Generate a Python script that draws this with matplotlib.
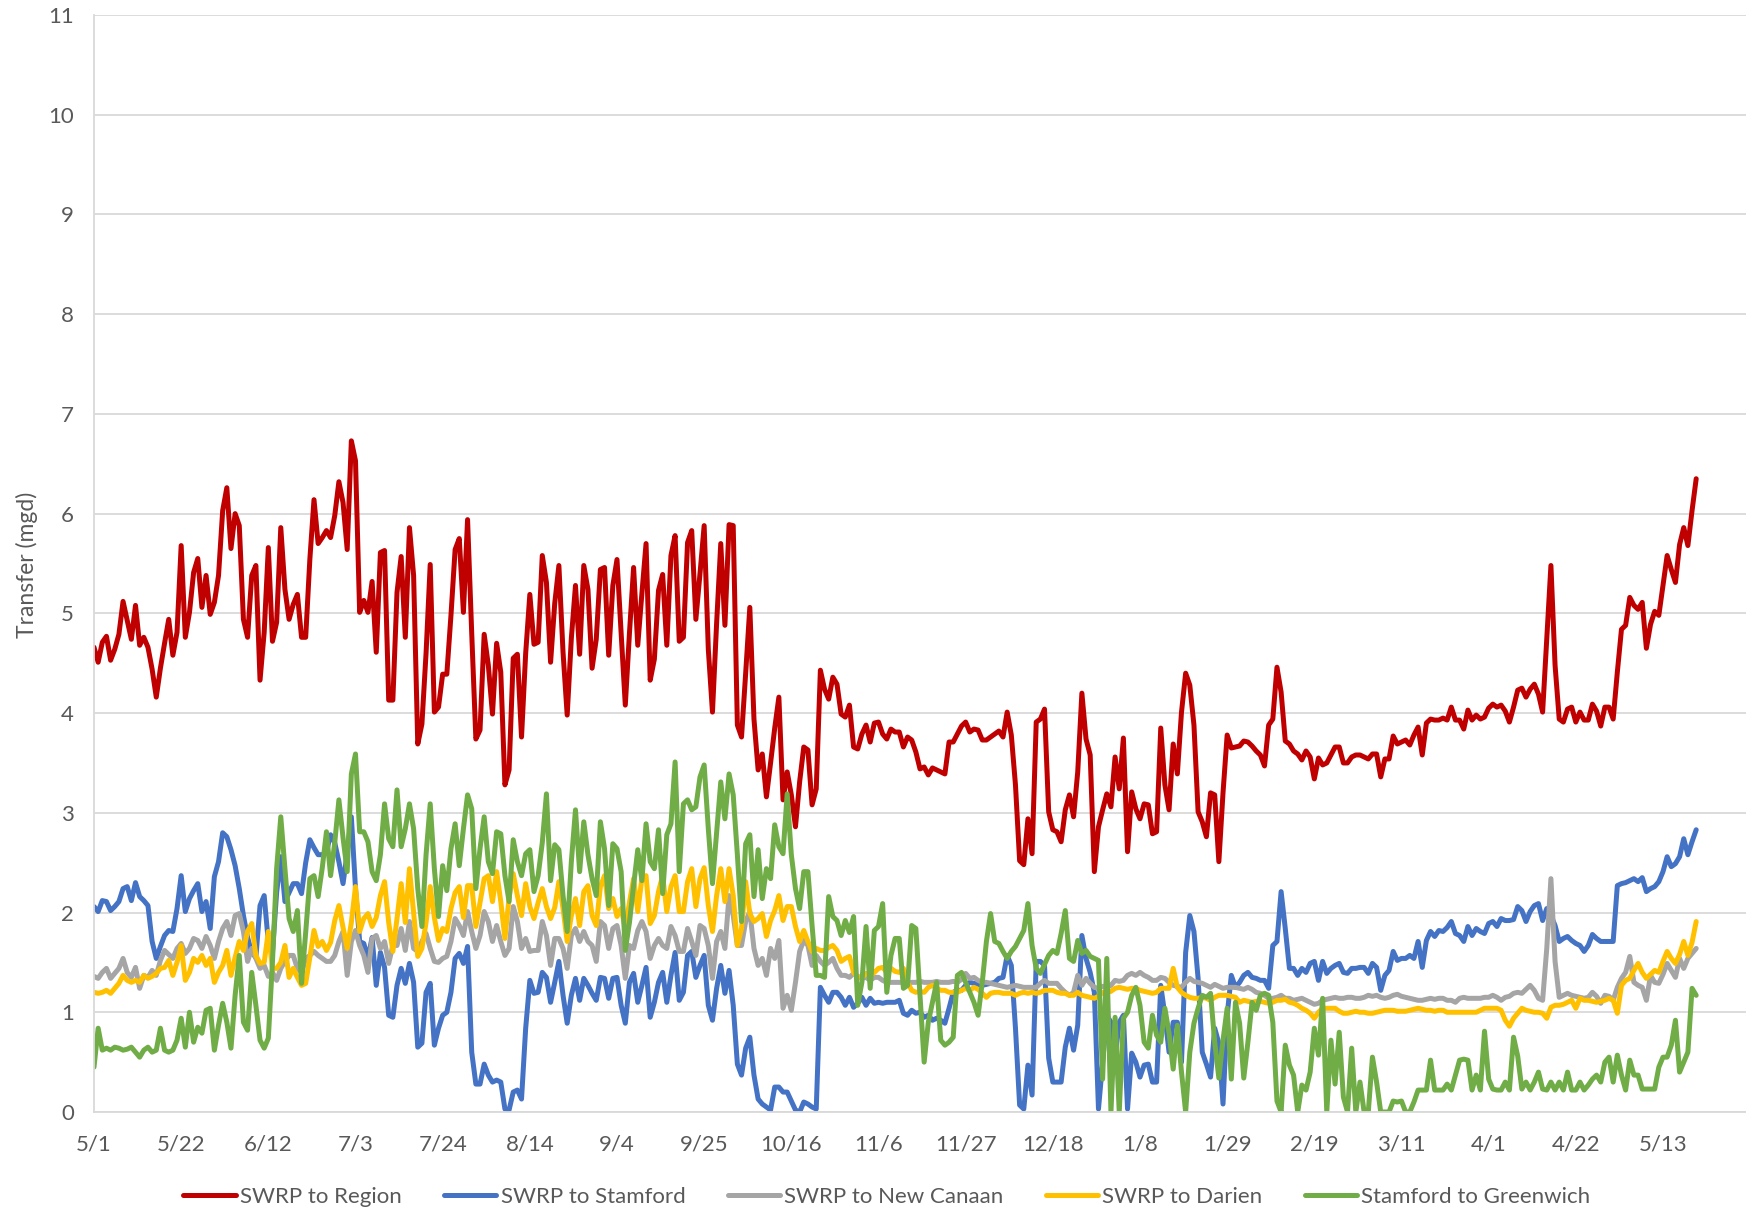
import pandas as pd
import matplotlib
matplotlib.use("Agg")
import matplotlib.pyplot as plt
import matplotlib.dates as mdates
from matplotlib.ticker import FuncFormatter, MultipleLocator

# daily transfers, 5/1 to 5/21 of the following year (mgd)
start = "2019-05-01"
n_days = 387
series_names = ["SWRP to Region", "SWRP to Stamford", "SWRP to New Canaan",
                "SWRP to Darien", "Stamford to Greenwich"]

swrp_region = [
    4.66, 4.51, 4.71, 4.77, 4.53, 4.64, 4.79, 5.12, 4.93, 4.74,
    5.08, 4.68, 4.76, 4.66, 4.44, 4.16, 4.45, 4.70, 4.94, 4.58,
    4.81, 5.68, 4.76, 5.01, 5.41, 5.55, 5.06, 5.38, 4.99, 5.11,
    5.38, 6.03, 6.26, 5.65, 6.00, 5.88, 4.94, 4.76, 5.38, 5.48,
    4.33, 4.81, 5.66, 4.72, 4.91, 5.86, 5.24, 4.94, 5.09, 5.19,
    4.76, 4.76, 5.54, 6.14, 5.70, 5.76, 5.83, 5.76, 5.98, 6.32,
    6.11, 5.64, 6.73, 6.53, 5.01, 5.13, 5.01, 5.32, 4.61, 5.61,
    5.63, 4.13, 4.13, 5.21, 5.57, 4.76, 5.86, 5.38, 3.69, 3.89,
    4.60, 5.49, 4.01, 4.06, 4.39, 4.39, 4.98, 5.64, 5.75, 5.01,
    5.94, 4.80, 3.74, 3.83, 4.79, 4.48, 3.99, 4.70, 4.41, 3.28,
    3.43, 4.55, 4.59, 3.76, 4.60, 5.19, 4.69, 4.71, 5.58, 5.31,
    4.51, 5.10, 5.48, 4.61, 3.98, 4.75, 5.28, 4.59, 5.48, 5.24,
    4.45, 4.74, 5.44, 5.46, 4.58, 5.28, 5.54, 4.80, 4.08, 4.80,
    5.46, 4.68, 5.20, 5.70, 4.33, 4.54, 5.23, 5.39, 4.68, 5.58,
    5.78, 4.72, 4.76, 5.71, 5.83, 4.94, 5.40, 5.88, 4.64, 4.01,
    4.90, 5.70, 4.88, 5.89, 5.88, 3.88, 3.76, 4.40, 5.06, 3.94,
    3.43, 3.59, 3.16, 3.50, 3.85, 4.16, 3.13, 3.41, 3.18, 2.86,
    3.31, 3.66, 3.63, 3.08, 3.24, 4.43, 4.24, 4.14, 4.36, 4.29,
    3.99, 3.96, 4.08, 3.66, 3.64, 3.79, 3.88, 3.71, 3.90, 3.91,
    3.79, 3.74, 3.84, 3.81, 3.81, 3.66, 3.76, 3.73, 3.61, 3.44,
    3.46, 3.38, 3.45, 3.43, 3.41, 3.39, 3.71, 3.71, 3.79, 3.87,
    3.91, 3.81, 3.84, 3.83, 3.73, 3.73, 3.76, 3.79, 3.82, 3.76,
    4.01, 3.78, 3.28, 2.52, 2.48, 2.94, 2.59, 3.91, 3.94, 4.04,
    3.01, 2.83, 2.81, 2.71, 3.03, 3.18, 2.96, 3.41, 4.20, 3.74,
    3.58, 2.41, 2.86, 3.03, 3.19, 3.06, 3.56, 3.24, 3.75, 2.61,
    3.21, 3.04, 2.94, 3.09, 3.08, 2.79, 2.81, 3.85, 3.28, 3.03,
    3.69, 3.39, 4.01, 4.40, 4.28, 3.88, 3.01, 2.91, 2.76, 3.20,
    3.18, 2.51, 3.20, 3.78, 3.65, 3.66, 3.67, 3.72, 3.71, 3.67,
    3.62, 3.58, 3.47, 3.88, 3.94, 4.46, 4.21, 3.72, 3.69, 3.62,
    3.59, 3.53, 3.62, 3.56, 3.34, 3.55, 3.48, 3.50, 3.58, 3.66,
    3.66, 3.50, 3.50, 3.56, 3.58, 3.58, 3.56, 3.54, 3.59, 3.59,
    3.36, 3.54, 3.54, 3.77, 3.69, 3.71, 3.73, 3.68, 3.78, 3.86,
    3.58, 3.90, 3.94, 3.93, 3.93, 3.95, 3.93, 4.06, 3.93, 3.93,
    3.84, 4.03, 3.93, 3.98, 3.94, 3.96, 4.05, 4.09, 4.06, 4.08,
    4.02, 3.91, 4.06, 4.23, 4.25, 4.16, 4.24, 4.29, 4.19, 4.01,
    4.74, 5.48, 4.48, 3.94, 3.91, 4.04, 4.06, 3.91, 4.01, 3.93,
    3.93, 4.09, 4.02, 3.87, 4.06, 4.06, 3.94, 4.41, 4.84, 4.88,
    5.16, 5.08, 5.04, 5.11, 4.65, 4.89, 5.02, 4.98, 5.28, 5.58,
    5.44, 5.31, 5.69, 5.86, 5.68, 6.03, 6.35,
]

swrp_stamford = [
    2.06, 2.01, 2.12, 2.11, 2.02, 2.06, 2.11, 2.24, 2.26, 2.12,
    2.30, 2.16, 2.12, 2.07, 1.71, 1.54, 1.66, 1.77, 1.82, 1.81,
    2.04, 2.37, 2.01, 2.14, 2.22, 2.29, 2.01, 2.11, 1.84, 2.36,
    2.51, 2.80, 2.76, 2.63, 2.47, 2.24, 1.97, 1.75, 1.60, 1.55,
    2.07, 2.17, 1.70, 1.60, 2.20, 2.56, 2.11, 2.20, 2.29, 2.29,
    2.19, 2.50, 2.73, 2.65, 2.58, 2.58, 2.61, 2.78, 2.70, 2.51,
    2.29, 2.60, 2.96, 2.24, 1.71, 1.69, 1.54, 1.75, 1.27, 1.60,
    1.45, 0.97, 0.95, 1.27, 1.44, 1.29, 1.49, 1.30, 0.65, 0.69,
    1.20, 1.29, 0.67, 0.84, 0.97, 1.00, 1.20, 1.54, 1.59, 1.49,
    1.66, 0.60, 0.28, 0.28, 0.48, 0.37, 0.30, 0.32, 0.30, 0.03,
    0.02, 0.20, 0.22, 0.13, 0.84, 1.32, 1.19, 1.20, 1.40, 1.35,
    1.10, 1.30, 1.51, 1.17, 0.89, 1.17, 1.34, 1.12, 1.34, 1.27,
    1.19, 1.12, 1.35, 1.34, 1.14, 1.34, 1.35, 1.07, 0.89, 1.30,
    1.39, 1.10, 1.27, 1.45, 0.95, 1.10, 1.30, 1.40, 1.10, 1.37,
    1.60, 1.12, 1.20, 1.57, 1.61, 1.35, 1.47, 1.57, 1.07, 0.92,
    1.24, 1.47, 1.19, 1.42, 1.07, 0.48, 0.37, 0.64, 0.75, 0.37,
    0.13, 0.08, 0.05, 0.02, 0.25, 0.25, 0.20, 0.20, 0.11, 0.02,
    0.00, 0.10, 0.08, 0.05, 0.03, 1.25, 1.17, 1.10, 1.20, 1.20,
    1.15, 1.07, 1.15, 1.05, 1.09, 1.15, 1.07, 1.14, 1.09, 1.10,
    1.09, 1.10, 1.10, 1.10, 1.12, 0.99, 0.97, 1.02, 0.99, 1.00,
    0.95, 0.97, 0.92, 0.94, 0.92, 0.89, 1.04, 1.20, 1.22, 1.22,
    1.27, 1.30, 1.29, 1.28, 1.27, 1.28, 1.29, 1.30, 1.34, 1.35,
    1.57, 1.47, 0.84, 0.07, 0.03, 0.47, 0.17, 1.51, 1.51, 1.47,
    0.54, 0.30, 0.30, 0.30, 0.65, 0.84, 0.62, 0.87, 1.77, 1.54,
    1.40, 1.20, 0.03, 0.50, 0.97, 0.90, 0.55, 0.90, 0.97, 0.03,
    0.59, 0.50, 0.35, 0.47, 0.48, 0.30, 0.30, 1.27, 0.97, 0.60,
    0.90, 0.90, 0.50, 1.60, 1.97, 1.81, 1.34, 0.60, 0.48, 0.35,
    0.84, 0.69, 0.08, 0.97, 1.37, 1.25, 1.30, 1.37, 1.40, 1.35,
    1.34, 1.32, 1.32, 1.24, 1.67, 1.71, 2.21, 1.84, 1.44, 1.44,
    1.37, 1.44, 1.40, 1.49, 1.51, 1.32, 1.51, 1.39, 1.44, 1.47,
    1.49, 1.40, 1.39, 1.44, 1.44, 1.45, 1.45, 1.39, 1.49, 1.45,
    1.22, 1.37, 1.42, 1.61, 1.52, 1.54, 1.54, 1.57, 1.54, 1.71,
    1.45, 1.72, 1.81, 1.76, 1.82, 1.81, 1.85, 1.91, 1.79, 1.77,
    1.71, 1.86, 1.77, 1.84, 1.81, 1.79, 1.89, 1.91, 1.86, 1.94,
    1.92, 1.92, 1.93, 2.06, 2.02, 1.91, 2.01, 2.07, 2.09, 1.92,
    2.04, 1.97, 1.87, 1.71, 1.74, 1.76, 1.72, 1.69, 1.67, 1.61,
    1.67, 1.78, 1.74, 1.71, 1.71, 1.71, 1.71, 2.27, 2.29, 2.30,
    2.32, 2.34, 2.31, 2.35, 2.21, 2.24, 2.26, 2.31, 2.41, 2.56,
    2.46, 2.49, 2.56, 2.74, 2.58, 2.71, 2.83,
]

swrp_new_canaan = [
    1.36, 1.34, 1.40, 1.44, 1.34, 1.39, 1.44, 1.54, 1.40, 1.35,
    1.45, 1.24, 1.37, 1.35, 1.42, 1.37, 1.52, 1.62, 1.58, 1.54,
    1.64, 1.69, 1.59, 1.64, 1.74, 1.72, 1.64, 1.76, 1.67, 1.54,
    1.71, 1.84, 1.91, 1.77, 1.97, 1.99, 1.81, 1.51, 1.64, 1.54,
    1.44, 1.47, 1.36, 1.40, 1.32, 1.44, 1.51, 1.57, 1.57, 1.44,
    1.40, 1.54, 1.57, 1.61, 1.57, 1.54, 1.51, 1.51, 1.57, 1.71,
    1.81, 1.37, 1.71, 1.82, 1.67, 1.57, 1.40, 1.74, 1.77, 1.64,
    1.71, 1.49, 1.67, 1.67, 1.84, 1.62, 1.91, 1.64, 1.61, 1.71,
    1.79, 1.64, 1.51, 1.50, 1.54, 1.56, 1.71, 1.94, 1.87, 1.77,
    2.01, 1.81, 1.64, 1.77, 2.01, 1.91, 1.71, 1.87, 1.71, 1.57,
    1.64, 2.06, 1.91, 1.64, 1.74, 1.61, 1.62, 1.62, 1.91, 1.77,
    1.47, 1.74, 1.74, 1.64, 1.44, 1.77, 1.84, 1.71, 1.81, 1.71,
    1.67, 1.51, 1.91, 1.87, 1.64, 1.84, 1.87, 1.67, 1.34, 1.67,
    1.64, 1.82, 1.91, 1.81, 1.54, 1.67, 1.74, 1.67, 1.64, 1.86,
    1.77, 1.61, 1.61, 1.84, 1.71, 1.57, 1.87, 1.84, 1.67, 1.34,
    1.71, 1.81, 1.64, 2.17, 1.97, 1.67, 1.67, 1.91, 2.01, 1.64,
    1.47, 1.54, 1.37, 1.64, 1.54, 1.72, 1.04, 1.17, 1.02, 1.30,
    1.61, 1.72, 1.67, 1.47, 1.57, 1.51, 1.47, 1.50, 1.54, 1.44,
    1.37, 1.37, 1.35, 1.39, 1.36, 1.34, 1.35, 1.32, 1.35, 1.35,
    1.32, 1.30, 1.30, 1.30, 1.30, 1.30, 1.29, 1.30, 1.30, 1.31,
    1.30, 1.30, 1.30, 1.31, 1.30, 1.30, 1.30, 1.31, 1.30, 1.33,
    1.39, 1.34, 1.35, 1.32, 1.30, 1.30, 1.29, 1.28, 1.27, 1.26,
    1.25, 1.26, 1.27, 1.26, 1.25, 1.25, 1.25, 1.25, 1.29, 1.32,
    1.29, 1.29, 1.29, 1.24, 1.20, 1.17, 1.20, 1.37, 1.27, 1.34,
    1.29, 1.25, 1.24, 1.26, 1.25, 1.27, 1.32, 1.31, 1.32, 1.37,
    1.39, 1.37, 1.40, 1.37, 1.35, 1.32, 1.32, 1.35, 1.34, 1.30,
    1.27, 1.26, 1.25, 1.30, 1.34, 1.31, 1.30, 1.29, 1.27, 1.25,
    1.28, 1.26, 1.24, 1.25, 1.25, 1.25, 1.24, 1.23, 1.25, 1.23,
    1.20, 1.19, 1.17, 1.14, 1.14, 1.15, 1.17, 1.14, 1.14, 1.12,
    1.13, 1.14, 1.12, 1.10, 1.08, 1.09, 1.12, 1.13, 1.14, 1.15,
    1.14, 1.14, 1.15, 1.15, 1.14, 1.14, 1.15, 1.17, 1.16, 1.17,
    1.15, 1.14, 1.15, 1.17, 1.18, 1.16, 1.15, 1.14, 1.13, 1.12,
    1.12, 1.13, 1.14, 1.13, 1.14, 1.14, 1.12, 1.12, 1.10, 1.14,
    1.15, 1.14, 1.14, 1.14, 1.14, 1.15, 1.15, 1.17, 1.15, 1.12,
    1.15, 1.16, 1.19, 1.20, 1.19, 1.23, 1.27, 1.22, 1.14, 1.12,
    1.64, 2.34, 1.51, 1.15, 1.17, 1.19, 1.17, 1.16, 1.15, 1.14,
    1.15, 1.20, 1.16, 1.09, 1.17, 1.16, 1.12, 1.25, 1.34, 1.40,
    1.56, 1.30, 1.27, 1.25, 1.12, 1.37, 1.30, 1.29, 1.38, 1.49,
    1.42, 1.35, 1.54, 1.44, 1.54, 1.59, 1.64,
]

swrp_darien = [
    1.20, 1.19, 1.20, 1.22, 1.19, 1.24, 1.29, 1.37, 1.32, 1.30,
    1.32, 1.30, 1.37, 1.34, 1.36, 1.39, 1.44, 1.45, 1.52, 1.37,
    1.50, 1.67, 1.32, 1.40, 1.54, 1.50, 1.57, 1.47, 1.54, 1.30,
    1.40, 1.47, 1.62, 1.37, 1.55, 1.71, 1.62, 1.81, 1.89, 1.57,
    1.49, 1.50, 1.81, 1.44, 1.44, 1.50, 1.67, 1.35, 1.44, 1.35,
    1.27, 1.29, 1.55, 1.82, 1.66, 1.71, 1.62, 1.70, 1.92, 2.07,
    1.85, 1.64, 1.90, 2.26, 1.81, 1.94, 1.99, 1.86, 1.95, 2.17,
    2.31, 1.90, 1.61, 1.94, 2.29, 1.90, 2.44, 2.00, 1.56, 1.64,
    1.90, 2.26, 1.95, 1.72, 1.84, 1.81, 2.04, 2.20, 2.26, 1.95,
    2.27, 2.27, 1.86, 2.10, 2.34, 2.37, 2.11, 2.41, 2.11, 1.74,
    2.15, 2.39, 2.17, 1.97, 2.29, 2.06, 1.94, 2.10, 2.24, 2.06,
    1.94, 2.05, 2.31, 2.04, 1.71, 1.97, 2.14, 1.87, 2.21, 2.27,
    1.97, 1.87, 2.26, 2.37, 2.04, 2.14, 1.96, 2.04, 1.84, 2.10,
    2.34, 2.01, 2.34, 2.37, 1.89, 1.97, 2.21, 2.37, 2.01, 2.26,
    2.37, 2.01, 2.01, 2.31, 2.44, 2.06, 2.34, 2.45, 2.07, 1.81,
    2.17, 2.44, 2.11, 2.44, 2.17, 1.67, 1.84, 2.31, 1.99, 1.91,
    1.94, 1.99, 1.76, 1.92, 2.02, 2.17, 1.92, 2.06, 2.06, 1.86,
    1.71, 1.82, 1.71, 1.61, 1.64, 1.62, 1.62, 1.65, 1.67, 1.62,
    1.51, 1.54, 1.56, 1.40, 1.35, 1.35, 1.39, 1.37, 1.40, 1.44,
    1.45, 1.40, 1.44, 1.41, 1.40, 1.44, 1.30, 1.22, 1.20, 1.21,
    1.20, 1.25, 1.27, 1.24, 1.22, 1.22, 1.20, 1.20, 1.20, 1.22,
    1.24, 1.22, 1.25, 1.23, 1.19, 1.15, 1.19, 1.20, 1.20, 1.19,
    1.19, 1.19, 1.17, 1.19, 1.20, 1.19, 1.20, 1.19, 1.20, 1.22,
    1.22, 1.22, 1.20, 1.19, 1.19, 1.17, 1.17, 1.20, 1.17, 1.16,
    1.15, 1.14, 1.16, 1.20, 1.20, 1.21, 1.24, 1.25, 1.24, 1.23,
    1.24, 1.24, 1.22, 1.21, 1.20, 1.19, 1.20, 1.24, 1.24, 1.24,
    1.44, 1.25, 1.20, 1.17, 1.15, 1.14, 1.14, 1.15, 1.14, 1.12,
    1.15, 1.17, 1.17, 1.17, 1.16, 1.15, 1.10, 1.12, 1.11, 1.10,
    1.11, 1.11, 1.10, 1.09, 1.10, 1.12, 1.12, 1.13, 1.10, 1.09,
    1.07, 1.04, 1.02, 0.99, 0.94, 1.00, 1.04, 1.04, 1.04, 1.04,
    1.01, 0.99, 0.99, 1.00, 1.01, 1.00, 1.00, 0.99, 0.99, 1.00,
    1.01, 1.02, 1.02, 1.02, 1.01, 1.01, 1.01, 1.02, 1.03, 1.04,
    1.03, 1.02, 1.02, 1.01, 1.02, 1.02, 1.00, 1.00, 1.00, 1.00,
    1.00, 1.00, 1.00, 1.00, 1.02, 1.04, 1.04, 1.04, 1.04, 1.02,
    0.92, 0.86, 0.94, 0.99, 1.04, 1.02, 1.01, 1.00, 1.00, 0.99,
    0.94, 1.05, 1.07, 1.07, 1.08, 1.10, 1.12, 1.04, 1.14, 1.12,
    1.12, 1.11, 1.10, 1.11, 1.12, 1.14, 1.12, 0.99, 1.27, 1.32,
    1.34, 1.42, 1.49, 1.40, 1.34, 1.38, 1.42, 1.40, 1.51, 1.61,
    1.54, 1.49, 1.58, 1.71, 1.57, 1.70, 1.91,
]

stamford_greenwich = [
    0.45, 0.84, 0.62, 0.64, 0.62, 0.65, 0.64, 0.62, 0.63, 0.65,
    0.60, 0.55, 0.62, 0.65, 0.60, 0.62, 0.84, 0.62, 0.60, 0.62,
    0.72, 0.94, 0.65, 1.00, 0.70, 0.85, 0.79, 1.02, 1.04, 0.62,
    0.87, 1.09, 0.90, 0.64, 1.17, 1.57, 0.90, 0.82, 1.40, 1.07,
    0.72, 0.64, 0.74, 1.51, 2.44, 2.96, 2.44, 1.94, 1.81, 2.02,
    1.29, 1.80, 2.34, 2.37, 2.16, 2.45, 2.81, 2.37, 2.70, 3.13,
    2.75, 2.41, 3.39, 3.59, 2.81, 2.81, 2.71, 2.41, 2.32, 2.58,
    3.09, 2.74, 2.66, 3.23, 2.66, 2.84, 3.09, 2.84, 2.24, 1.86,
    2.58, 3.09, 2.44, 1.96, 2.47, 2.22, 2.64, 2.89, 2.47, 2.84,
    3.18, 3.04, 2.24, 2.64, 2.96, 2.51, 2.39, 2.81, 2.79, 2.37,
    2.11, 2.73, 2.51, 2.37, 2.59, 2.63, 2.21, 2.37, 2.70, 3.19,
    2.32, 2.68, 2.63, 2.17, 1.81, 2.51, 3.03, 2.41, 2.91, 2.58,
    2.34, 2.17, 2.91, 2.64, 2.07, 2.69, 2.64, 2.41, 1.62, 1.90,
    2.27, 2.63, 2.32, 2.89, 2.51, 2.44, 2.83, 2.19, 2.78, 2.89,
    3.51, 2.41, 3.09, 3.13, 3.03, 3.06, 3.36, 3.48, 2.84, 2.29,
    2.80, 3.31, 2.94, 3.39, 3.18, 2.58, 1.91, 2.69, 2.78, 2.16,
    2.63, 2.14, 2.44, 2.34, 2.88, 2.66, 2.59, 3.19, 2.58, 2.24,
    2.04, 2.41, 2.41, 1.87, 1.37, 1.37, 1.35, 2.16, 1.96, 1.92,
    1.77, 1.92, 1.80, 1.96, 1.07, 1.30, 1.86, 1.24, 1.82, 1.86,
    2.09, 1.20, 1.57, 1.74, 1.74, 1.24, 1.27, 1.87, 1.84, 1.17,
    0.50, 0.90, 1.10, 1.30, 0.72, 0.67, 0.70, 0.75, 1.37, 1.40,
    1.30, 1.20, 1.10, 0.97, 1.30, 1.71, 1.99, 1.71, 1.69, 1.61,
    1.54, 1.61, 1.66, 1.74, 1.82, 2.09, 1.67, 1.44, 1.39, 1.48,
    1.57, 1.62, 1.59, 1.79, 2.02, 1.54, 1.51, 1.72, 1.59, 1.62,
    1.56, 1.54, 1.52, 0.33, 1.54, 0.00, 0.95, 0.00, 0.94, 1.00,
    1.17, 1.25, 1.07, 0.70, 0.64, 0.97, 0.77, 0.70, 1.04, 0.79,
    0.43, 0.87, 0.40, 0.00, 0.60, 0.89, 1.04, 1.17, 1.15, 1.19,
    0.70, 0.34, 0.72, 1.04, 0.33, 1.10, 0.89, 0.34, 0.70, 1.10,
    1.02, 1.17, 1.19, 1.17, 0.90, 0.11, 0.00, 0.67, 0.47, 0.37,
    0.00, 0.27, 0.22, 0.40, 0.84, 0.57, 1.14, 0.00, 0.72, 0.28,
    0.80, 0.15, 0.00, 0.64, 0.00, 0.30, 0.00, 0.00, 0.55, 0.30,
    0.00, 0.00, 0.00, 0.11, 0.10, 0.11, 0.00, 0.00, 0.10, 0.22,
    0.22, 0.22, 0.52, 0.22, 0.22, 0.22, 0.28, 0.22, 0.37, 0.52,
    0.53, 0.52, 0.22, 0.37, 0.22, 0.81, 0.33, 0.23, 0.22, 0.22,
    0.30, 0.22, 0.75, 0.56, 0.23, 0.30, 0.22, 0.30, 0.40, 0.23,
    0.22, 0.30, 0.22, 0.30, 0.22, 0.40, 0.22, 0.22, 0.30, 0.22,
    0.27, 0.33, 0.37, 0.30, 0.50, 0.55, 0.30, 0.57, 0.37, 0.22,
    0.52, 0.37, 0.37, 0.23, 0.23, 0.23, 0.23, 0.45, 0.55, 0.55,
    0.67, 0.92, 0.40, 0.50, 0.60, 1.24, 1.17,
]

colors = ["#C00000", "#4472C4", "#A5A5A5", "#FFC000", "#70AD47"]
txt_color = "#595959"
grid_color = "#D9D9D9"

plt.rcParams['font.family'] = ['Lato', 'DejaVu Sans']

dates = pd.date_range(start, periods=n_days, freq="D").to_pydatetime()
tick_dates = pd.date_range(start, periods=19, freq="21D").to_pydatetime()
x_end = pd.Timestamp(start) + pd.Timedelta(days=398)

W, H = 1746, 1213
fig = plt.figure(figsize=(W / 100, H / 100), dpi=100)
ax = fig.add_axes([94 / W, 1 - 1112 / H, (W - 94) / W, (1112 - 15) / H])

all_series = [swrp_region, swrp_stamford, swrp_new_canaan, swrp_darien, stamford_greenwich]
for vals, name, c in zip(all_series, series_names, colors):
    ax.plot(dates, vals, color=c, lw=3.6, label=name, solid_joinstyle="round",
            solid_capstyle="round")

ax.set_ylim(0, 11)
ax.set_xlim(dates[0], x_end.to_pydatetime())
ax.yaxis.set_major_locator(MultipleLocator(1))
ax.set_xticks(tick_dates)
ax.xaxis.set_major_formatter(FuncFormatter(
    lambda v, pos: "{}/{}".format(mdates.num2date(v).month, mdates.num2date(v).day)))

ax.grid(axis="y", color=grid_color, lw=1.3)
ax.set_axisbelow(True)
for s in ["top", "right"]:
    ax.spines[s].set_visible(False)
for s in ["left", "bottom"]:
    ax.spines[s].set_color(grid_color)
    ax.spines[s].set_linewidth(1.3)
ax.tick_params(axis="x", length=0, pad=16, labelsize=16, labelcolor=txt_color)
ax.tick_params(axis="y", length=0, pad=14.5, labelsize=16, labelcolor=txt_color)

fig.text(27 / W, 1 - 565 / H, "Transfer (mgd)", rotation=90, ha="center", va="center",
         fontsize=16.5, color=txt_color)

fig.legend(loc="center", bbox_to_anchor=(0.508, 1 - 1197 / H), ncol=5, frameon=False,
           handlelength=2.35, handletextpad=0.2, columnspacing=1.9, fontsize=16,
           labelcolor=txt_color)

fig.savefig("out.png", dpi=100)
